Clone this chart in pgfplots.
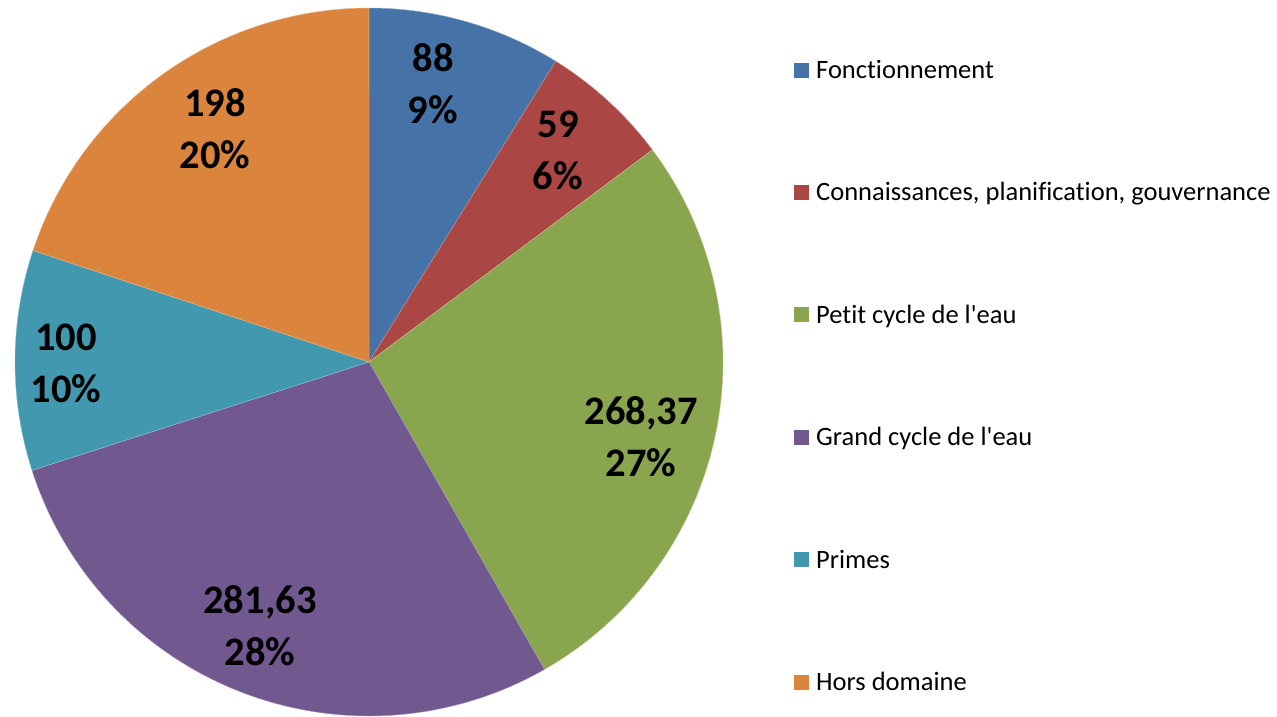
\documentclass[border=0pt]{standalone}
\usepackage{fontspec}
\setmainfont{Carlito}[Ligatures=NoCommon]
\usepackage{pgfplots}
\pgfplotsset{compat=1.18}
\definecolor{cA}{HTML}{4572A7}
\definecolor{cB}{HTML}{AA4643}
\definecolor{cC}{HTML}{89A54E}
\definecolor{cD}{HTML}{71588F}
\definecolor{cE}{HTML}{4198AF}
\definecolor{cF}{HTML}{DB843D}

% slice values
\def\vA{88}
\def\vB{59}
\def\vC{268.37}
\def\vD{281.63}
\def\vE{100}
\def\vF{198}
\pgfmathsetmacro\total{\vA+\vB+\vC+\vD+\vE+\vF}
% cumulative angles, clockwise from the top
\pgfmathsetmacro\aA{90}
\pgfmathsetmacro\aB{\aA-\vA/\total*360}
\pgfmathsetmacro\aC{\aB-\vB/\total*360}
\pgfmathsetmacro\aD{\aC-\vC/\total*360}
\pgfmathsetmacro\aE{\aD-\vD/\total*360}
\pgfmathsetmacro\aF{\aE-\vE/\total*360}
\pgfmathsetmacro\aG{\aF-\vF/\total*360}

\def\cx{369}
\def\cy{354}
\def\rr{354}

\begin{document}
\begin{tikzpicture}
\begin{axis}[
  hide axis, scale only axis,
  width=1277pt, height=716pt,
  xmin=0, xmax=1277, ymin=0, ymax=716,
  clip=false,
  slice/.style={line width=0.4pt, samples=90, variable=\t},
  legend image code/.code={\path[#1,draw=none] (0pt,-7.5pt) rectangle (15pt,7.5pt);},
  legend style={at={(axis cs:794,656)}, anchor=north west, draw=none, fill=none,
    inner sep=0pt, row sep=102.6pt, column sep=7pt,
    font=\fontsize{26.5}{31}\selectfont,
    cells={anchor=west}, nodes={inner sep=0pt}},
]
\path (rel axis cs:0,0) rectangle (rel axis cs:1,1);
\addplot[slice, fill=cA, draw=white!40!cA, domain=\aA:\aB] ({\cx+\rr*cos(\t)},{\cy+\rr*sin(\t)}) -- (axis cs:\cx,\cy) -- cycle;
\addlegendentry{Fonctionnement}
\addplot[slice, fill=cB, draw=white!40!cB, domain=\aB:\aC] ({\cx+\rr*cos(\t)},{\cy+\rr*sin(\t)}) -- (axis cs:\cx,\cy) -- cycle;
\addlegendentry{Connaissances, planification, gouvernance}
\addplot[slice, fill=cC, draw=white!40!cC, domain=\aC:\aD] ({\cx+\rr*cos(\t)},{\cy+\rr*sin(\t)}) -- (axis cs:\cx,\cy) -- cycle;
\addlegendentry{Petit cycle de l\textquotesingle eau}
\addplot[slice, fill=cD, draw=white!40!cD, domain=\aD:\aE] ({\cx+\rr*cos(\t)},{\cy+\rr*sin(\t)}) -- (axis cs:\cx,\cy) -- cycle;
\addlegendentry{Grand cycle de l\textquotesingle eau}
\addplot[slice, fill=cE, draw=white!40!cE, domain=\aE:\aF] ({\cx+\rr*cos(\t)},{\cy+\rr*sin(\t)}) -- (axis cs:\cx,\cy) -- cycle;
\addlegendentry{Primes}
\addplot[slice, fill=cF, draw=white!40!cF, domain=\aF:\aG] ({\cx+\rr*cos(\t)},{\cy+\rr*sin(\t)}) -- (axis cs:\cx,\cy) -- cycle;
\addlegendentry{Hors domaine}

\tikzset{lbl/.style={align=center, font=\fontsize{40.5}{52}\selectfont\bfseries, inner sep=0pt}}
\node[lbl] at (axis cs:433,632) {88\\9\%};
\node[lbl] at (axis cs:558,566) {59\\6\%};
\node[lbl] at (axis cs:641,279) {268,37\\27\%};
\node[lbl] at (axis cs:260,90) {281,63\\28\%};
\node[lbl] at (axis cs:66,353) {100\\10\%};
\node[lbl] at (axis cs:215,587) {198\\20\%};
\end{axis}
\end{tikzpicture}
\end{document}
